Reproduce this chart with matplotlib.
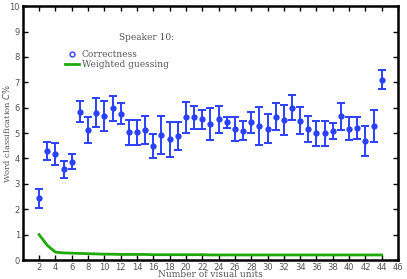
import matplotlib
matplotlib.use('Agg')
import matplotlib.pyplot as plt
from matplotlib.lines import Line2D

units = list(range(2, 45))
correct = [2.43, 4.29, 4.17, 3.57, 3.88, 5.85, 5.12, 5.81, 5.66, 5.97,
           5.77, 5.03, 5.03, 5.12, 4.50, 4.92, 4.75, 4.88, 5.62, 5.62,
           5.55, 5.35, 5.55, 5.42, 5.16, 5.10, 5.43, 5.29, 5.18, 5.64,
           5.51, 6.00, 5.49, 5.16, 4.99, 4.99, 5.07, 5.66, 5.17, 5.20,
           4.69, 5.29, 7.11]
errs = [0.38, 0.35, 0.43, 0.34, 0.30, 0.42, 0.50, 0.59, 0.59, 0.48,
        0.43, 0.49, 0.48, 0.55, 0.47, 0.75, 0.68, 0.55, 0.62, 0.46,
        0.37, 0.62, 0.53, 0.21, 0.47, 0.36, 0.42, 0.74, 0.56, 0.53,
        0.59, 0.49, 0.53, 0.52, 0.49, 0.50, 0.32, 0.53, 0.46, 0.43,
        0.60, 0.63, 0.36]
guess = [1.00, 0.58, 0.31, 0.28, 0.27, 0.26, 0.25, 0.24, 0.23, 0.23,
         0.22, 0.22, 0.22, 0.22, 0.21, 0.21, 0.21, 0.21, 0.21, 0.21,
         0.21, 0.20, 0.20, 0.20, 0.20, 0.20, 0.20, 0.20, 0.20, 0.20,
         0.20, 0.20, 0.20, 0.20, 0.20, 0.20, 0.20, 0.20, 0.20, 0.20,
         0.20, 0.20, 0.20]

blue = '#2a40ff'
green = '#1fa80a'
txt = '#555555'

fig = plt.figure(figsize=(4.07, 2.79), dpi=100)
ax = fig.add_axes([0.056, 0.068, 0.922, 0.91])

ax.errorbar(units, correct, yerr=errs, fmt='o', color=blue, ms=3.5,
            elinewidth=1.4, capsize=3, capthick=1.4)
ax.plot(units, guess, color=green, lw=2)

ax.set_xlim(0, 46)
ax.set_ylim(0, 10)
ax.set_xticks(range(2, 47, 2))
ax.set_yticks(range(0, 11))
ax.tick_params(direction='in', top=True, right=True, length=3.5, width=1,
               labelsize=6, labelcolor=txt, pad=2)
for s in ax.spines.values():
    s.set_linewidth(1.8)

ax.set_xlabel('Number of visual units', family='serif', fontsize=6.5,
              color=txt, labelpad=-1)
ax.set_ylabel('Word classification $C\\%$', family='serif', fontsize=6,
              color=txt)
ax.yaxis.set_label_coords(-0.03, 0.5)

ax.text(11.8, 8.65, 'Speaker 10:', family='serif', fontsize=6.5, color=txt)
handles = [Line2D([], [], marker='o', ls='none', mfc='none', mec=blue, ms=3.5),
           Line2D([], [], color=green, lw=2)]
ax.legend(handles, ['Correctness', 'Weighted guessing'], loc='upper left',
          bbox_to_anchor=(0.09, 0.86), frameon=False, handlelength=1.6,
          handletextpad=0.3, labelspacing=0.1,
          prop={'family': 'serif', 'size': 6.5}, labelcolor=txt)

fig.savefig('out.png')
